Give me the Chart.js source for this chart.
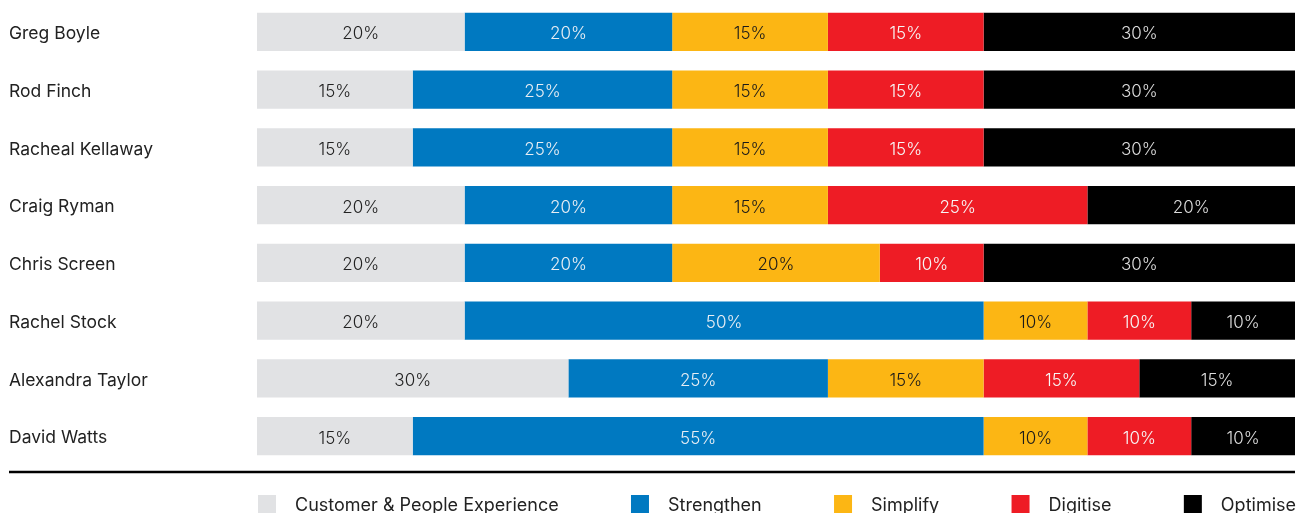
<!DOCTYPE html>
<html>
<head>
<meta charset="utf-8">
<style>
  html, body { margin: 0; padding: 0; background: #ffffff; }
  #wrap { width: 1296px; height: 513px; position: relative; }
</style>
<script src="https://cdn.jsdelivr.net/npm/chart.js@4/dist/chart.umd.min.js"></script>
</head>
<body>
<div id="wrap"><canvas id="chart" width="1296" height="513"></canvas></div>
<script>
// Focus split per person across the five priorities (percent of time)
const people = ['Greg Boyle', 'Rod Finch', 'Racheal Kellaway', 'Craig Ryman', 'Chris Screen', 'Rachel Stock', 'Alexandra Taylor', 'David Watts'];
const customerPeople = [20, 15, 15, 20, 20, 20, 30, 15];
const strengthen     = [20, 25, 25, 20, 20, 50, 25, 55];
const simplify       = [15, 15, 15, 15, 20, 10, 15, 10];
const digitise       = [15, 15, 15, 25, 10, 10, 15, 10];
const optimise       = [30, 30, 30, 20, 30, 10, 15, 10];
const seriesNames = ['Customer & People Experience', 'Strengthen', 'Simplify', 'Digitise', 'Optimise'];

const colors = ['#e1e2e4', '#0079c1', '#fcb614', '#ee1c25', '#000000'];
const labelColors = ['#222222', '#e8eef4', '#1a1a1a', '#f7f7f7', '#dcdcdc'];
const FONT = 'Inter, "Noto Sans", sans-serif';

const seriesValues = [customerPeople, strengthen, simplify, digitise, optimise];
const datasets = seriesValues.map((vals, i) => ({
  label: seriesNames[i],
  data: vals,
  backgroundColor: colors[i],
  borderWidth: 0,
  barPercentage: 0.66,
  categoryPercentage: 1.0
}));

// Writes the percentage in the middle of each segment
const segmentLabels = {
  id: 'segmentLabels',
  afterDatasetsDraw(chart) {
    const ctx = chart.ctx;
    ctx.save();
    ctx.font = '300 17px ' + FONT;
    ctx.textAlign = 'center';
    ctx.textBaseline = 'middle';
    chart.data.datasets.forEach((ds, di) => {
      const meta = chart.getDatasetMeta(di);
      meta.data.forEach((bar, i) => {
        const v = ds.data[i];
        if (!v) return;
        const cx = (bar.x + bar.base) / 2;
        ctx.fillStyle = labelColors[di];
        ctx.fillText(v + '%', cx, bar.y + 2.5);
      });
    });
    ctx.restore();
  }
};

// Rule under the bars and the legend row beneath it
const footer = {
  id: 'footer',
  afterDraw(chart) {
    const ctx = chart.ctx;
    const area = chart.chartArea;
    ctx.save();
    ctx.strokeStyle = '#000000';
    ctx.lineWidth = 2.5;
    ctx.beginPath();
    ctx.moveTo(9, 472);
    ctx.lineTo(area.right, 472);
    ctx.stroke();

    ctx.font = '400 18px ' + FONT;
    ctx.textBaseline = 'middle';
    ctx.textAlign = 'left';
    const widths = seriesNames.map(n => ctx.measureText(n).width);
    const box = 18, boxGap = 19;
    const itemW = widths.map(w => box + boxGap + w);
    const total = itemW.reduce((a, b) => a + b, 0);
    const gap = (area.right - area.left - total) / (seriesNames.length - 1);
    let x = area.left + 1;
    const y = 504;
    seriesNames.forEach((n, i) => {
      ctx.fillStyle = colors[i];
      ctx.fillRect(x, y - 9, box, box);
      ctx.fillStyle = '#222222';
      ctx.fillText(n, x + box + boxGap, y + 1.5);
      x += itemW[i] + gap;
    });
    ctx.restore();
  }
};

new Chart(document.getElementById('chart'), {
  type: 'bar',
  data: { labels: people, datasets },
  options: {
    indexAxis: 'y',
    responsive: false,
    animation: false,
    layout: { padding: { left: 9, right: 1, top: 3, bottom: 48 } },
    plugins: {
      legend: { display: false },
      tooltip: { enabled: false }
    },
    scales: {
      x: {
        stacked: true,
        min: 0,
        max: 100,
        display: false
      },
      y: {
        stacked: true,
        grid: { display: false, drawTicks: false },
        border: { display: false },
        ticks: {
          crossAlign: 'far',
          padding: 0,
          labelOffset: 2,
          color: '#222222',
          font: { family: FONT, size: 17.5, weight: '400' }
        },
        afterFit(scale) {
          scale.width = 248;
          scale.paddingTop = 0;
          scale.paddingBottom = 0;
        }
      }
    }
  },
  plugins: [segmentLabels, footer]
});
</script>
</body>
</html>
